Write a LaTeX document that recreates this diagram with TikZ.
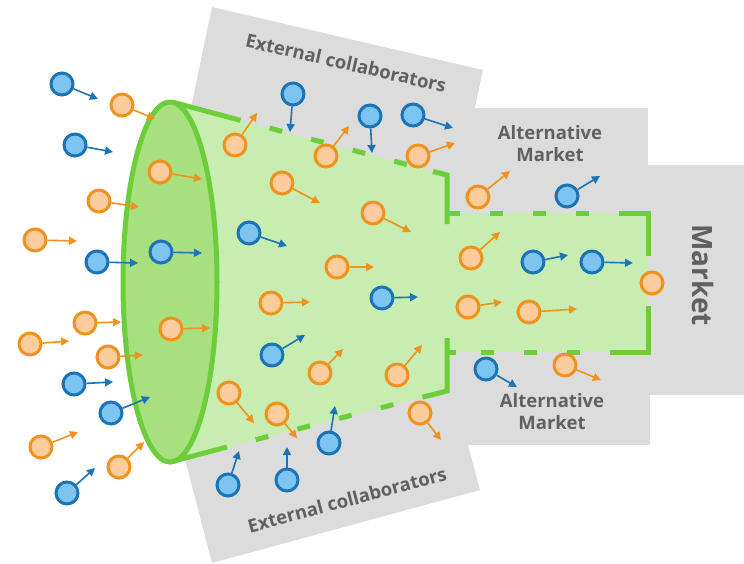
\documentclass[tikz,border=0pt]{standalone}
\usepackage{fontspec}
\setmainfont{Open Sans}
\usetikzlibrary{arrows.meta, calc}
\definecolor{panel}{HTML}{DCDCDC}
\definecolor{funnelin}{HTML}{C8EDB0}
\definecolor{funnelface}{HTML}{A8E07F}
\definecolor{funnelline}{HTML}{6DCE3B}
\definecolor{bluefill}{HTML}{7DC4F1}
\definecolor{blueline}{HTML}{1B74B6}
\definecolor{orangefill}{HTML}{FCCC9C}
\definecolor{orangeline}{HTML}{F0921E}
\definecolor{labelgray}{HTML}{606060}
\tikzset{bluedot/.style={circle, draw=blueline, fill=bluefill, line width=3pt, inner sep=0pt, minimum size=22pt}}
\tikzset{orangedot/.style={circle, draw=orangeline, fill=orangefill, line width=3pt, inner sep=0pt, minimum size=22pt}}
\tikzset{bluepush/.style={draw=blueline, line width=1.6pt, -{Triangle[length=8pt,width=8pt]}}}
\tikzset{orangepush/.style={draw=orangeline, line width=1.6pt, -{Triangle[length=8pt,width=8pt]}}}
\tikzset{rim/.style={draw=funnelline, line width=5pt}}
\tikzset{rimdash/.style={rim, dash pattern=on 13pt off 30pt}}
\tikzset{panellabel/.style={font=\bfseries\fontsize{18.5}{22}\selectfont, text=labelgray, align=center, inner sep=1pt}}

\begin{document}
\begin{tikzpicture}[x=1pt, y=-1pt]
          \useasboundingbox (0,0) rectangle (744,563);

          \fill[panel] (212,7) -- (483,70) -- (470,130) -- (450,220) -- (180,160) -- cycle;
          \fill[panel] (440,108) rectangle (648,216);
          \fill[panel] (640,165) rectangle (744,395);
          \fill[panel] (440,345) rectangle (650,445);
          \fill[panel] (180,440) -- (453,390) -- (468,445) -- (480,490) -- (212,563) -- cycle;

          \node[panellabel, rotate=-13] (topcollab) at (346,63) {External collaborators};
          \node[panellabel, rotate=15] (botcollab) at (347,500) {External collaborators};
          \node[panellabel] (altup) at (550,144) {Alternative\\Market};
          \node[panellabel] (altdown) at (552,412) {Alternative\\Market};
          \node[panellabel, font=\bfseries\fontsize{28}{32}\selectfont, rotate=-90] (market) at (703,275) {Market};

          \fill[funnelin] (170,102) -- (447,175) -- (447,213) -- (648,213) -- (648,352)
            -- (447,352) -- (447,391) -- (170,462) -- cycle;

          \draw[rim] (172,102) -- (228,117);
          \draw[rimdash] (228,117) -- (433,171.5);
          \draw[rim] (433,171.5) -- (447,175) -- (447,224);
          \draw[rimdash] (447,213) -- (625,213);
          \draw[rim] (623,213) -- (648,213) -- (648,256);
          \draw[rim] (648,306) -- (648,352) -- (623,352);
          \draw[rimdash] (623,352) -- (455,352);
          \draw[rim] (456,352) -- (447,352);
          \draw[rim] (447,338) -- (447,391) -- (435,394);
          \draw[rimdash] (435,394) -- (227,447);
          \draw[rim] (227,447) -- (170,462);

          \filldraw[fill=funnelface, rim] (170,282) ellipse [x radius=47pt, y radius=180pt];

          \foreach \n/\x/\y/\ex/\ey in {1/62/84/98/99, 2/75/145/113/152, 3/161/252/202/253,
            4/97/262/138/263, 5/293/94/290/132, 6/370/116/372/153, 7/413/115/453/128,
            8/249/233/287/246, 9/382/298/418/297, 10/567/196/600/176, 11/533/262/568/255,
            12/592/262/633/263, 13/74/384/113/382, 14/111/413/150/397, 15/272/355/305/335,
            16/486/369/517/387, 17/67/493/95/468, 18/329/443/335/406, 19/228/485/239/451,
            20/287/480/287/447} {
            \node[bluedot] (b\n) at (\x,\y) {};
            \coordinate (b\n tip) at (\ex,\ey);
            \draw[bluepush] (b\n) -- (b\n tip);
          }

          \foreach \n/\x/\y/\ex/\ey in {1/122/105/155/119, 2/160/172/202/179, 3/99/201/139/207,
            4/235/145/257/113, 5/326/156/349/126, 6/418/156/455/143, 7/282/183/320/203,
            8/373/213/411/232, 9/35/240/77/241, 10/337/267/374/267, 11/271/303/310/302,
            12/478/197/510/171, 13/471/258/500/232, 14/468/307/502/302, 15/529/312/577/309,
            16/85/323/121/322, 17/30/344/69/341, 18/108/357/143/355, 19/171/329/210/328,
            20/320/373/343/349, 21/397/375/422/345, 22/565/365/601/380, 23/229/393/254/423,
            24/41/447/78/432, 25/119/467/144/442, 26/277/414/297/438, 27/420/413/441/440} {
            \node[orangedot] (o\n) at (\x,\y) {};
            \coordinate (o\n tip) at (\ex,\ey);
            \draw[orangepush] (o\n) -- (o\n tip);
          }

          \node[orangedot] (omarket) at (652,283) {};
        \end{tikzpicture}
\end{document}
